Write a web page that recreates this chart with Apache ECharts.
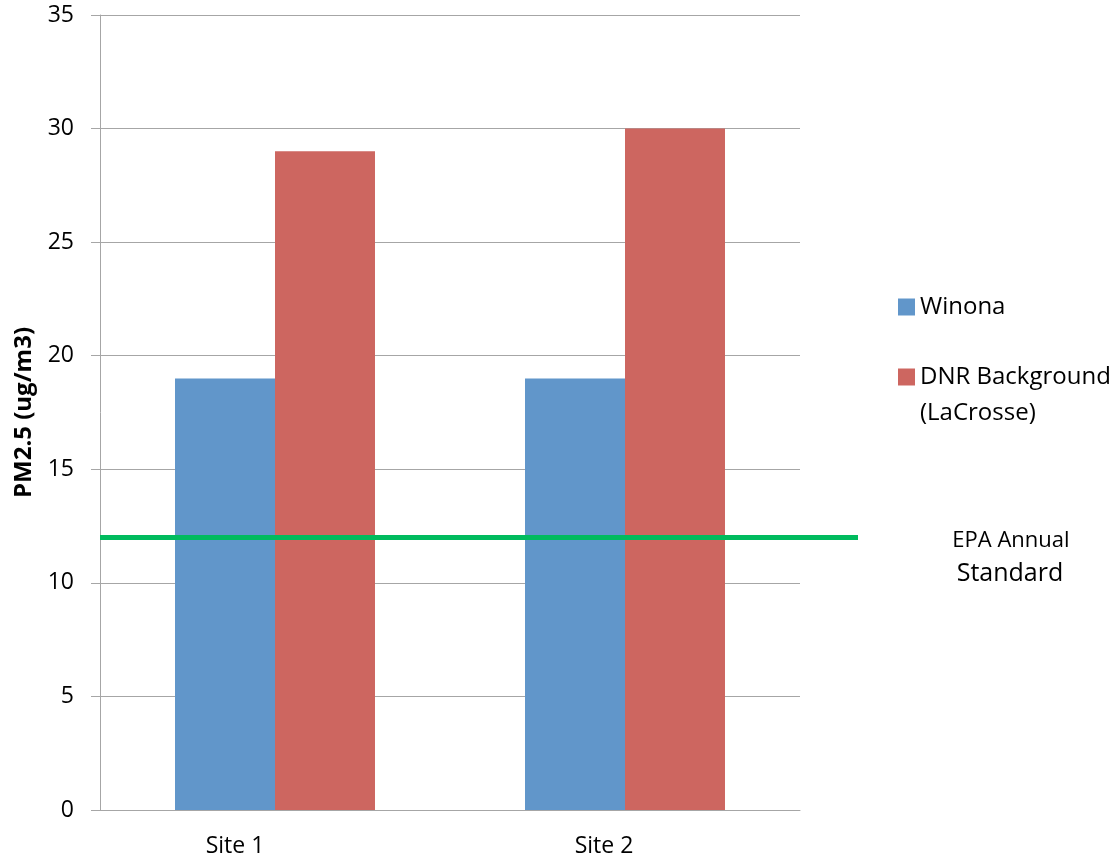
<!DOCTYPE html>
<html>
<head>
<meta charset="utf-8">
<script src="https://cdn.jsdelivr.net/npm/echarts@6/dist/echarts.min.js"></script>
<style>html,body{margin:0;padding:0;background:#fff}#c{width:1119px;height:859px}</style>
</head>
<body>
<div id="c"></div>
<script>
const categories = ['Site 1', 'Site 2'];
const winona = [19, 19];
const dnrBackground = [29, 30];
const epaStandard = 12;
const yMin = 0, yMax = 35, yStep = 5;
const seriesNames = ['Winona', 'DNR Background (LaCrosse)'];
const yTitle = 'PM2.5 (ug/m3)';

const FONT = 'Open Sans';
const GRAY = '#a6a6a6';
const chart = echarts.init(document.getElementById('c'), null, {renderer: 'canvas'});

chart.setOption({
  animation: false,
  backgroundColor: '#ffffff',
  textStyle: {fontFamily: FONT},
  grid: [
    {left: 100, right: 319, top: 15, bottom: 49},
    {left: 100, right: 261, top: 15, bottom: 49}
  ],
  legend: [
    {
      data: [seriesNames[0]],
      orient: 'vertical', left: 893, top: 284,
      itemWidth: 17, itemHeight: 17, icon: 'rect',
      textStyle: {fontFamily: FONT, fontSize: 24, color: '#000', lineHeight: 36}
    },
    {
      data: [seriesNames[1]],
      orient: 'vertical', left: 893, top: 318,
      itemWidth: 17, itemHeight: 17, icon: 'rect',
      formatter: () => '{t|\u00a0}\n{t|DNR Background}\n{t|(LaCrosse)}',
      textStyle: {fontFamily: FONT, fontSize: 24, color: '#000', lineHeight: 36,
        rich: {t: {fontFamily: FONT, fontSize: 24, color: '#000', lineHeight: 36}}}
    }
  ],
  xAxis: [
    {
      type: 'category', gridIndex: 0, data: categories,
      axisLine: {show: true, lineStyle: {color: GRAY, width: 1}},
      axisTick: {show: false},
      axisLabel: {
        margin: 25,
        formatter: (v, i) => (i === 0 ? '{a|' + v + '}' : '{b|' + v + '}'),
        rich: {
          a: {fontFamily: FONT, fontSize: 23, color: '#000', padding: [0, 80, 0, 0]},
          b: {fontFamily: FONT, fontSize: 23, color: '#000', padding: [0, 42, 0, 0]}
        }
      }
    },
    {type: 'value', gridIndex: 1, min: 0, max: 1, show: false}
  ],
  yAxis: [
    {
      type: 'value', gridIndex: 0, min: yMin, max: yMax, interval: yStep,
      name: yTitle, nameLocation: 'middle', nameGap: 64, nameRotate: 90,
      nameTextStyle: {fontFamily: FONT, fontSize: 24, fontWeight: 'bold', color: '#000'},
      axisLine: {show: true, lineStyle: {color: GRAY, width: 1}},
      axisTick: {show: true, length: 9, lineStyle: {color: GRAY}},
      splitLine: {show: true, lineStyle: {color: GRAY, width: 1}},
      axisLabel: {fontFamily: FONT, fontSize: 23, color: '#000', margin: 26}
    },
    {type: 'value', gridIndex: 1, min: yMin, max: yMax, show: false}
  ],
  series: [
    {
      name: seriesNames[0], type: 'bar', xAxisIndex: 0, yAxisIndex: 0,
      data: winona, barGap: '0%', barCategoryGap: '42.86%',
      itemStyle: {color: '#6196ca'}
    },
    {
      name: seriesNames[1], type: 'bar', xAxisIndex: 0, yAxisIndex: 0,
      data: dnrBackground, barGap: '0%', barCategoryGap: '42.86%',
      itemStyle: {color: '#cd6660'}
    },
    {
      name: 'EPA Annual Standard', type: 'line', xAxisIndex: 1, yAxisIndex: 1,
      data: [[0, epaStandard], [1, epaStandard]],
      symbol: 'none', z: 10,
      lineStyle: {color: '#00bb5e', width: 5}
    }
  ],
  graphic: [
    {type: 'text', style: {text: 'EPA Annual', x: 1011, y: 541, fontFamily: FONT, fontSize: 22, fill: '#000', align: 'center', verticalAlign: 'middle'}},
    {type: 'text', style: {text: 'Standard', x: 1010, y: 574, fontFamily: FONT, fontSize: 25, fill: '#000', align: 'center', verticalAlign: 'middle'}}
  ]
});
</script>
</body>
</html>
